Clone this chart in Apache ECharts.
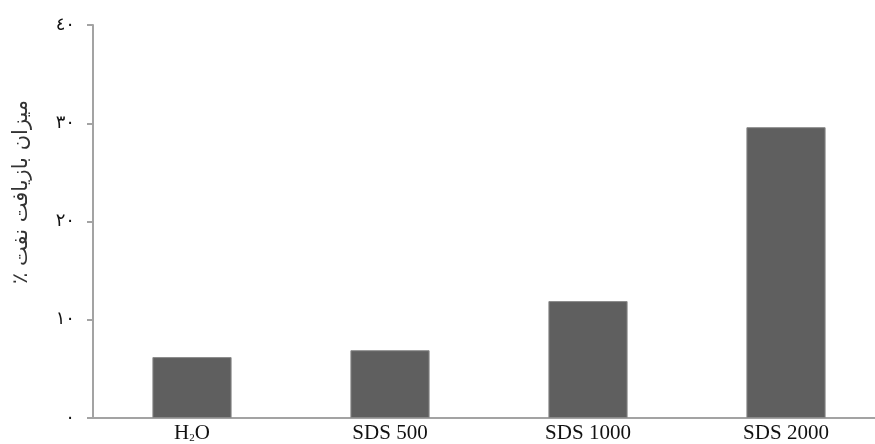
<!DOCTYPE html>
<html><head><meta charset="utf-8">
<script src="https://cdn.jsdelivr.net/npm/echarts@6/dist/echarts.min.js"></script>
<style>html,body{margin:0;padding:0;background:#fff}#c{width:875px;height:444px}</style>
</head><body><div id="c"></div>
<script>
const categories = ['H{sub|2}O', 'SDS 500', 'SDS 1000', 'SDS 2000'];
const values = [6.2, 6.9, 11.9, 29.6];
const yTickLabels = ['٠', '١٠', '٢٠', '٣٠', '٤٠'];
const yTitle = 'میزان بازیافت نفت ٪';

const chart = echarts.init(document.getElementById('c'));
chart.setOption({
  animation: false,
  backgroundColor: '#fff',
  grid: { left: 93, width: 792, top: 25, height: 393, containLabel: false, outerBoundsMode: 'none' },
  xAxis: {
    type: 'category',
    data: categories,
    axisLine: { lineStyle: { color: '#a3a3a3', width: 2 } },
    axisTick: { show: false },
    axisLabel: {
      margin: 5,
      color: '#111',
      fontFamily: 'Liberation Serif',
      fontSize: 21,
      rich: { sub: { fontSize: 11, verticalAlign: 'bottom', padding: [10, 0, 0, 0], fontFamily: 'Liberation Serif', color: '#111' } }
    }
  },
  yAxis: {
    type: 'value',
    min: 0, max: 40, interval: 10,
    axisLine: { show: true, lineStyle: { color: '#a3a3a3', width: 2 } },
    axisTick: { show: true, length: 6, lineStyle: { color: '#a3a3a3', width: 2 } },
    splitLine: { show: false },
    axisLabel: {
      margin: 18,
      color: '#111',
      fontFamily: 'DejaVu Sans',
      fontSize: 18,
      formatter: v => yTickLabels[Math.round(v / 10)]
    }
  },
  graphic: [{
    type: 'text',
    x: 22,
    y: 192,
    rotation: Math.PI / 2,
    style: { text: yTitle + '\u200F', font: '21px "DejaVu Sans"', fill: '#333', align: 'center', verticalAlign: 'middle' }
  }],
  series: [{
    type: 'bar',
    data: values,
    barWidth: '40%',
    itemStyle: { color: '#5f5f5f', borderColor: '#8a8a8a', borderWidth: 1 }
  }]
});
</script></body></html>
